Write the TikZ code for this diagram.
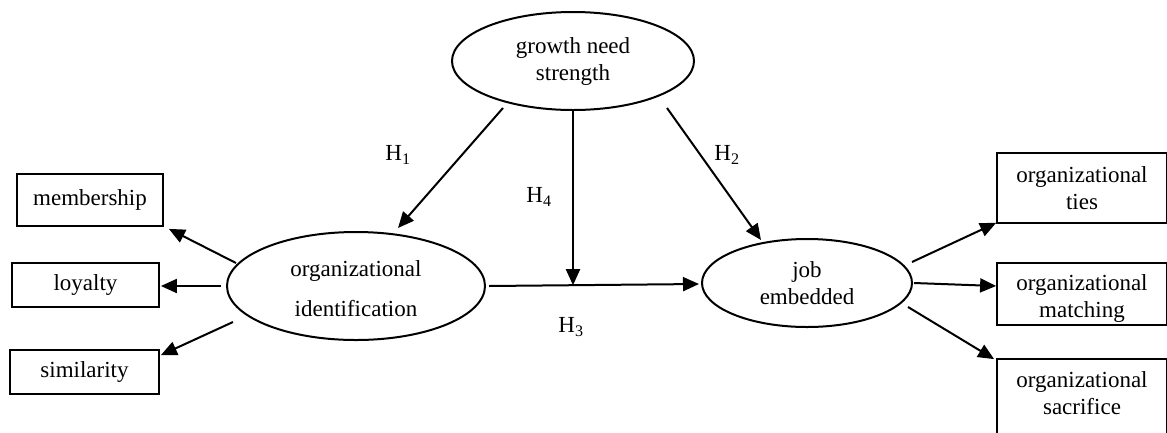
\documentclass[tikz,border=0pt]{standalone}
\usepackage{fontspec}
\setmainfont{Liberation Serif}
\usetikzlibrary{shapes.geometric,arrows.meta,calc}
\newcommand{\lowtext}[2]{\raisebox{-#1}[0pt][0pt]{\begin{tabular}{@{}c@{}}#2\end{tabular}}}
\begin{document}
\begin{tikzpicture}[x=1pt,y=-1pt,
  every node/.style={font=\fontsize{23}{27}\selectfont, text=black},
  oval/.style={draw, line width=2pt, ellipse, inner sep=0pt, align=center},
  box/.style={draw, line width=1.8pt, rectangle, inner sep=0pt, align=center},
  arr/.style={draw, line width=2pt, -{Triangle[length=16pt,width=14pt]}},
  lbl/.style={inner sep=0pt}
]
\useasboundingbox (0,0) rectangle (1167,432);
% ellipses
\node[oval, minimum width=242, minimum height=98] (gns) at (573,61) {growth need\\strength};
\node[oval, minimum width=258, minimum height=108] (oi) at (356,286) {\lowtext{11.75pt}{organizational\\[13pt]identification}};
\node[oval, minimum width=210, minimum height=88] (job) at (807,283) {job\\embedded};
% left boxes
\node[box, minimum width=146, minimum height=52] (mem) at (90,200) {membership};
\node[box, minimum width=147, minimum height=44] (loy) at (85.5,285) {loyalty};
\node[box, minimum width=149, minimum height=44] (sim) at (84.5,372) {similarity};
% right boxes
\node[box, minimum width=170, minimum height=70] (ties) at (1082,188) {organizational\\ties};
\node[box, minimum width=170, minimum height=62] (mat) at (1082,294) {\lowtext{10.5pt}{organizational\\matching}};
\node[box, minimum width=170, minimum height=84] (sac) at (1082,401) {\lowtext{1.25pt}{organizational\\sacrifice}};
% left arrows
\draw[arr] ($(oi.center)+(-120,-23)$) -- ($(mem.south east)+(5,2)$);
\draw[arr] ($(oi.west)+(-5,0)$) -- ($(loy.east)+(1,1)$);
\draw[arr] ($(oi.center)+(-123,36)$) -- ($(sim.north east)+(1,6)$);
% right arrows
\draw[arr] ($(job.center)+(105,-21)$) -- ($(ties.south west)+(0,-1)$);
\draw[arr] ($(job.east)+(1,0)$) -- ($(mat.west)+(0,-8)$);
\draw[arr] ($(job.center)+(101,24)$) -- ($(sac.north west)+(-2,1)$);
% hypotheses
\draw[arr] ($(gns.center)+(-70,47)$) -- ($(oi.center)+(42,-58)$);
\draw[arr] ($(gns.center)+(94,47)$) -- ($(job.center)+(-46,-43)$);
\draw[arr] ($(oi.east)+(3,0)$) -- coordinate[pos=0.404] (m) ($(job.west)+(-2,1)$);
\draw[arr] ($(gns.south)+(0,-2)$) -- (gns.south |- m);
% labels
\node[lbl] (h1) at (398,155) {H\textsubscript{1}};
\node[lbl] (h2) at (727,155) {H\textsubscript{2}};
\node[lbl] (h4) at (539,197) {H\textsubscript{4}};
\node[lbl] (h3) at (571,327) {H\textsubscript{3}};
\end{tikzpicture}
\end{document}
